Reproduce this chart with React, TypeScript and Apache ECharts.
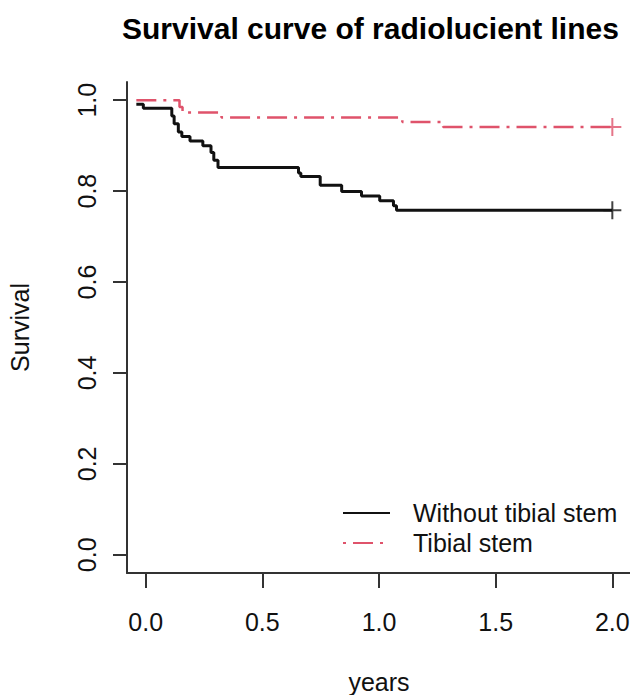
import React, { useEffect, useRef } from "react";
import * as echarts from "echarts";

const titleText = "Survival curve of radiolucient lines";
const xTicks = [0, 0.5, 1.0, 1.5, 2.0];
const yTicks = [0, 0.2, 0.4, 0.6, 0.8, 1.0];
const seriesNames = ["Without tibial stem", "Tibial stem"];

// Kaplan-Meier steps: [time (years), survival]
const withoutStemTimes = [-0.04, -0.01, 0.112, 0.122, 0.14, 0.155, 0.19, 0.245, 0.28, 0.292, 0.31, 0.655, 0.665, 0.748, 0.84, 0.925, 1.003, 1.062, 1.075, 2.0];
const withoutStemSurv = [0.991, 0.982, 0.965, 0.948, 0.93, 0.92, 0.91, 0.9, 0.885, 0.868, 0.852, 0.84, 0.832, 0.813, 0.799, 0.789, 0.779, 0.768, 0.758, 0.758];

const stemTimes = [-0.04, 0.145, 0.158, 0.325, 1.1, 1.275, 2.0];
const stemSurv = [1.0, 0.985, 0.973, 0.962, 0.952, 0.941, 0.941];

// censoring marks at end of follow-up
const censorWithout = [[2.0, 0.758]];
const censorStem = [[2.0, 0.941]];

const FONT = "'Liberation Sans', Arial, Helvetica, sans-serif";
const RED = "#DF536B";
const BLACK = "#111111";

export default function App() {
  const ref = useRef<HTMLDivElement>(null);
  useEffect(() => {
    if (!ref.current) return;
    const chart = echarts.init(ref.current, undefined, { renderer: "svg" });
    const blackData = withoutStemTimes.map((t, i) => [t, withoutStemSurv[i]]);
    const redData = stemTimes.map((t, i) => [t, stemSurv[i]]);
    const cross = "path://M0,-10 L0,10 M-10,0 L10,0";
    chart.setOption({
      animation: false,
      backgroundColor: "#ffffff",
      textStyle: { fontFamily: FONT },
      title: {
        text: titleText,
        left: 117,
        top: 8,
        textStyle: { fontFamily: FONT, fontSize: 30, fontWeight: "bold", color: "#000" },
      },
      grid: { left: 127, top: 82, width: 504, height: 491, containLabel: false, outerBoundsMode: "none" },
      legend: {
        data: [
          { name: seriesNames[0] },
          { name: seriesNames[1], lineStyle: { dashOffset: 27 } },
        ],
        orient: "vertical",
        left: 337,
        top: 493,
        itemWidth: 47,
        itemHeight: 14,
        itemGap: 0,
        itemStyle: { opacity: 0 },
        textStyle: { fontFamily: FONT, fontSize: 25, color: "#111", lineHeight: 30, padding: [0, 0, 0, 18] },
      },
      xAxis: {
        type: "value",
        min: -0.08,
        max: 2.08,
        name: "years",
        nameLocation: "middle",
        nameGap: 96,
        nameTextStyle: { fontFamily: FONT, fontSize: 25, color: "#111" },
        splitLine: { show: false },
        axisLine: { show: true, onZero: false, lineStyle: { color: "#333", width: 2 } },
        axisTick: { show: true, length: 15, customValues: xTicks, lineStyle: { color: "#333", width: 2 } },
        axisLabel: {
          customValues: xTicks,
          margin: 36,
          fontFamily: FONT,
          fontSize: 25,
          color: "#111",
          formatter: (v: number) => v.toFixed(1),
        },
      },
      yAxis: {
        type: "value",
        min: -0.04,
        max: 1.04,
        name: "Survival",
        nameLocation: "middle",
        nameGap: 95,
        nameRotate: 90,
        nameTextStyle: { fontFamily: FONT, fontSize: 25, color: "#111" },
        splitLine: { show: false },
        axisLine: { show: true, onZero: false, lineStyle: { color: "#333", width: 2 } },
        axisTick: { show: true, length: 14, customValues: yTicks, lineStyle: { color: "#333", width: 2 } },
        axisLabel: {
          customValues: yTicks,
          rotate: 90,
          margin: 28,
          fontFamily: FONT,
          fontSize: 25,
          color: "#111",
          formatter: (v: number) => v.toFixed(1),
        },
      },
      series: [
        {
          name: seriesNames[0],
          type: "line",
          step: "end",
          data: blackData,
          symbol: "none",
          lineStyle: { color: BLACK, width: 3, type: "solid" },
          itemStyle: { color: BLACK },
          z: 3,
        },
        {
          name: seriesNames[1],
          type: "line",
          step: "end",
          data: redData,
          symbol: "none",
          lineStyle: { color: RED, width: 2.5, type: [20, 7, 3, 7] },
          itemStyle: { color: RED },
          z: 3,
        },
        {
          name: "censor-without",
          type: "scatter",
          data: censorWithout,
          symbol: cross,
          symbolSize: 18,
          itemStyle: { color: "none", borderColor: BLACK, borderWidth: 2 },
          z: 4,
        },
        {
          name: "censor-stem",
          type: "scatter",
          data: censorStem,
          symbol: cross,
          symbolSize: 18,
          itemStyle: { color: "none", borderColor: RED, borderWidth: 2 },
          z: 4,
        },
      ],
    });
    return () => chart.dispose();
  }, []);
  return (
    <div
      ref={ref}
      style={{ position: "fixed", left: 0, top: 0, width: 630, height: 695, background: "#fff" }}
    />
  );
}
